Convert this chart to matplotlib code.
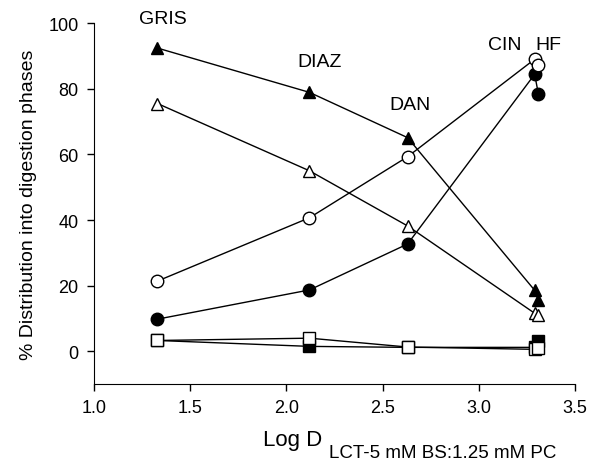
import matplotlib.pyplot as plt

plt.rcParams['font.family'] = ['Liberation Sans', 'DejaVu Sans']

# log D of the drugs (GRIS, DIAZ, DAN, CIN, HF)
log_d = [1.33, 2.12, 2.63, 3.29, 3.31]
drugs = ['GRIS', 'DIAZ', 'DAN', 'CIN', 'HF']

# % distribution series
open_circle = [21.4, 40.7, 59.3, 89.0, 87.2]
filled_circle = [9.8, 18.7, 32.7, 84.4, 78.3]
filled_triangle = [92.4, 78.9, 65.1, 18.6, 15.6]
open_triangle = [75.5, 55.0, 38.2, 11.6, 11.0]
open_square = [3.3, 4.0, 1.3, 0.6, 1.0]
filled_square = [3.3, 1.5, 1.2, 1.2, 3.0]

# label positions (data coords)
label_x = [1.36, 2.17, 2.64, 3.135, 3.36]
label_y = [101.5, 88.4, 75.2, 93.6, 93.6]

fig = plt.figure(figsize=(5.91, 4.64), dpi=100)
ax = fig.add_axes([0.159, 0.17, 0.814, 0.778])

kw = dict(color='black', lw=1.0, mec='black', mew=1.0)
ax.plot(log_d, filled_square, marker='s', ms=8, mfc='black', **kw)
ax.plot(log_d, open_square, marker='s', ms=8, mfc='white', **kw)
ax.plot(log_d, filled_circle, marker='o', ms=9, mfc='black', **kw)
ax.plot(log_d, open_circle, marker='o', ms=9, mfc='white', **kw)
ax.plot(log_d, open_triangle, marker='^', ms=9, mfc='white', **kw)
ax.plot(log_d, filled_triangle, marker='^', ms=9, mfc='black', **kw)

for name, x, y in zip(drugs, label_x, label_y):
    ax.text(x, y, name, ha='center', va='center', fontsize=14, clip_on=False)

ax.set_xlim(1.0, 3.5)
ax.set_ylim(-10, 100)
ax.set_xticks([1.0, 1.5, 2.0, 2.5, 3.0, 3.5])
ax.set_xticklabels(['1.0', '1.5', '2.0', '2.5', '3.0', '3.5'])
ax.set_yticks([0, 20, 40, 60, 80, 100])
ax.spines['top'].set_visible(False)
ax.spines['right'].set_visible(False)
ax.tick_params(direction='out', length=5, width=1, labelsize=13, pad=6)

ax.set_ylabel('% Distribution into digestion phases', fontsize=14, labelpad=8)

# x label with subscript part
fig.text(0.445, 0.038, 'Log D', fontsize=16, ha='left', va='baseline')
fig.text(0.556, 0.012, 'LCT-5 mM BS:1.25 mM PC', fontsize=13.5, ha='left', va='baseline')

fig.savefig('out.png', dpi=100)
